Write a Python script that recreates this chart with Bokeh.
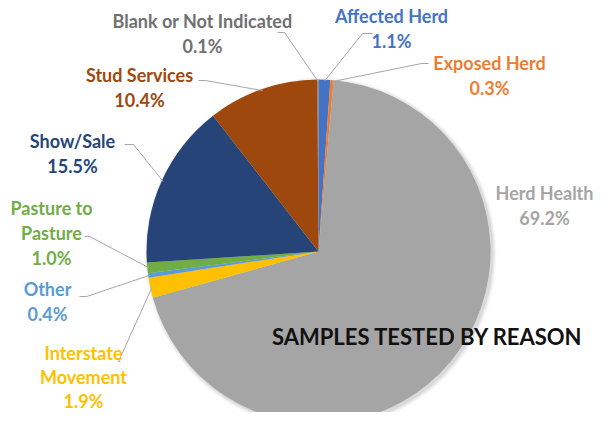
import math
from bokeh.plotting import figure
from bokeh.models import Range1d, ColumnDataSource
from bokeh.core.properties import value
from bokeh.embed import file_html
from bokeh.resources import INLINE

# ---- data (clockwise from 12 o'clock) ----
reasons = ["Affected Herd", "Exposed Herd", "Herd Health", "Interstate\nMovement",
           "Other", "Pasture to\nPasture", "Show/Sale", "Stud Services",
           "Blank or Not Indicated"]
percents = [1.1, 0.3, 69.2, 1.9, 0.4, 1.0, 15.5, 10.4, 0.1]
colors = ["#4472C4", "#ED7D31", "#A5A5A5", "#FFC000", "#5B9BD5", "#70AD47",
          "#264478", "#9E480E", "#7F7F7F"]
label_colors = ["#4472C4", "#ED7D31", "#A5A5A5", "#FFC000", "#5B9BD5", "#70AD47",
                "#264478", "#9E480E", "#707070"]
title = "SAMPLES TESTED BY REASON"

# ---- layout (screen pixels of the picture) ----
W, H = 594, 412
CX, CY, R = 318, 251, 172
label_pos = [(391, 15), (489, 62), (544, 192), (83, 352), (47, 288),
             (51, 207), (72, 140), (139, 74), (202, 20)]
line_gaps = [25, 25, 25, 24, 25, 25, 25, 25, 25]
leaders = [((372, 33), (362, 33)), ((428, 63), (421, 63)), None,
           ((120, 361), (118, 361)), ((79, 296), (86, 296)),
           ((84, 236), (89, 236)), ((124, 144), (133, 144)),
           ((198, 80), (205, 80)), ((277, 32), (284, 32))]

p = figure(width=W, height=H, output_backend="svg", toolbar_location=None,
           x_range=Range1d(0, W), y_range=Range1d(0, H), min_border=0)
p.axis.visible = False
p.grid.visible = False
p.outline_line_color = None
p.background_fill_color = "white"

def sy(y):
    return H - y

total = sum(percents)
starts, ends, mids = [], [], []
c = 0.0
for v in percents:
    a0 = math.pi / 2 - 2 * math.pi * c / total
    c += v
    a1 = math.pi / 2 - 2 * math.pi * c / total
    starts.append(a1)
    ends.append(a0)
    mids.append((a0 + a1) / 2)

# soft shadow
for dr, al in [(4, 0.03), (2.5, 0.05), (1, 0.07)]:
    p.circle(x=CX + 2, y=sy(CY) - 2, radius=R + dr, fill_color="black",
             fill_alpha=al, line_color=None)

src = ColumnDataSource(dict(start=starts, end=ends, color=colors))
p.wedge(x=CX, y=sy(CY), radius=R, start_angle="start", end_angle="end",
        fill_color="color", line_color=None, source=src)

for i, ld in enumerate(leaders):
    if ld is None:
        continue
    (x0, y0), (x1, y1) = ld
    ex = CX + 0.99 * R * math.cos(mids[i])
    ey = sy(CY) + 0.99 * R * math.sin(mids[i])
    p.line([x0, x1, ex], [sy(y0), sy(y1), ey], line_color="#A6A6A6", line_width=1)

tx, ty, tt, tc = [], [], [], []
for i, name in enumerate(reasons):
    lines = name.split("\n") + [f"{percents[i]:.1f}%"]
    x0, y0 = label_pos[i]
    for k, ln in enumerate(lines):
        tx.append(x0)
        ty.append(sy(y0 + k * line_gaps[i]))
        tt.append(ln)
        tc.append(label_colors[i])
p.text(x="x", y="y", text="t", text_color="c",
       source=ColumnDataSource(dict(x=tx, y=ty, t=tt, c=tc)),
       text_font=value("Lato"), text_font_style="bold", text_font_size="18px",
       text_align="center", text_baseline="middle")

p.text(x=[427], y=[sy(336)], text=[title], text_font=value("Lato"),
       text_font_style="bold", text_font_size="22px", text_color="#111111",
       text_align="center", text_baseline="middle")

open("out.html", "w").write(file_html(p, INLINE))
